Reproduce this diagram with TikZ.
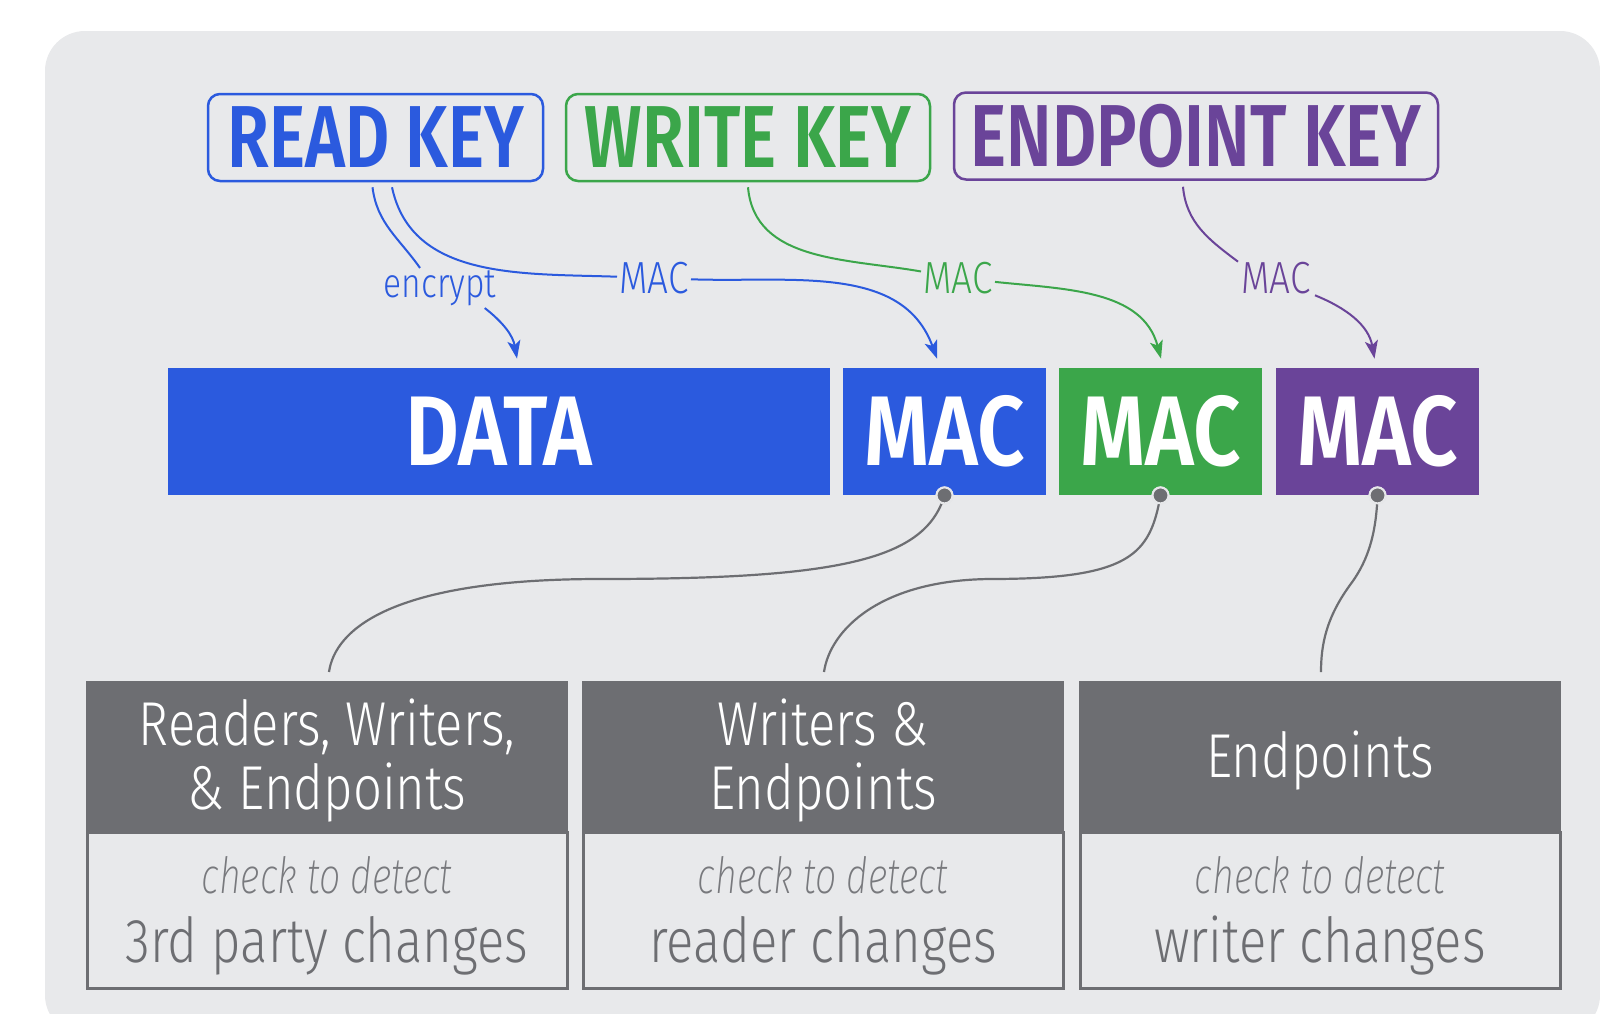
\documentclass[tikz,border=0pt]{standalone}
\usepackage{fontspec}
\setmainfont{Fira Sans}[FakeStretch=0.8]
% weights: fall back to the base family where a cut is absent
\IfFontExistsTF{Fira Sans SemiBold}
  {\newfontfamily\keyfont{Fira Sans SemiBold}[FakeStretch=0.775]
   \newfontfamily\barfont{Fira Sans SemiBold}[FakeStretch=0.84]}
  {\newfontfamily\keyfont{Fira Sans Bold}[FakeStretch=0.755]
   \newfontfamily\barfont{Fira Sans Bold}[FakeStretch=0.82]}
\IfFontExistsTF{Fira Sans Light}
  {\newfontfamily\lightfont{Fira Sans Light}[FakeStretch=0.82]}
  {\newfontfamily\lightfont{Fira Sans}[FakeStretch=0.8]}
\IfFontExistsTF{Fira Sans ExtraLight Italic}
  {\newfontfamily\thinit{Fira Sans ExtraLight Italic}[FakeStretch=0.75]}
  {\IfFontExistsTF{Fira Sans Light Italic}
    {\newfontfamily\thinit{Fira Sans Light Italic}[FakeStretch=0.75]}
    {\newfontfamily\thinit{Fira Sans Italic}[FakeStretch=0.75]}}
\usetikzlibrary{arrows.meta,calc}

\definecolor{keyblue}{RGB}{43,90,222}
\definecolor{keygreen}{RGB}{59,166,74}
\definecolor{keypurple}{RGB}{106,68,153}
\definecolor{slate}{RGB}{109,110,114}
\definecolor{panel}{RGB}{232,233,235}
\definecolor{softgray}{RGB}{120,121,125}
\definecolor{dotrim}{RGB}{230,231,233}

\begin{document}
\begin{tikzpicture}[x=0.5pt,y=-0.5pt,
  keybox/.style={draw, line width=1.25pt, rounded corners=6pt, inner sep=0pt,
    minimum height=43.5pt, font=\keyfont\fontsize{44}{48}\selectfont},
  bar/.style={fill, inner sep=0pt, minimum height=63.5pt, text=white,
    font=\barfont\fontsize{49.5}{52}\selectfont},
  lbl/.style={inner sep=1.2pt, outer sep=0pt, font=\lightfont\fontsize{22.5}{24}\selectfont},
  link/.style={line width=1pt},
  arr/.style={link, -{Stealth[length=9pt,width=6.5pt,inset=2.2pt]}},
  hdr/.style={fill=slate, draw=slate, line width=1pt, inner sep=0pt, text=white,
    minimum width=240pt, minimum height=75pt, align=center, text depth=3pt,
    font=\lightfont\fontsize{31}{32}\selectfont},
  lower/.style={draw=slate, line width=1.5pt, fill=panel, inner sep=0pt,
    minimum width=240pt, minimum height=78pt},
  chk/.style={anchor=base, text=softgray, inner sep=0pt,
    font=\thinit\fontsize{25}{28}\selectfont},
  chg/.style={anchor=base, text=slate, inner sep=0pt,
    font=\lightfont\fontsize{31}{32}\selectfont},
  gline/.style={draw=slate, line width=1.1pt},
  dot/.style={circle, fill=slate, draw=dotrim, line width=1pt,
    minimum size=8pt, inner sep=0pt}]

\useasboundingbox (0,0) rectangle (1600,1013);
\fill[white] (0,0) rectangle (1600,1013);
\fill[panel, rounded corners=20pt] (45,31) rectangle (1600,1035);

% keys
\node[keybox, draw=keyblue, text=keyblue, minimum width=167.5pt] (readkey) at (375.5,137.5) {READ KEY};
\node[keybox, draw=keygreen, text=keygreen, minimum width=182pt] (writekey) at (748,137.5) {WRITE KEY};
\node[keybox, draw=keypurple, text=keypurple, minimum width=242pt] (endkey) at (1196,136) {ENDPOINT KEY};

% message layout
\node[bar, fill=keyblue, minimum width=331pt] (data) at (499,431.5) {DATA};
\node[bar, fill=keyblue, minimum width=101.5pt] (mac1) at (944.5,431.5) {MAC};
\node[bar, fill=keygreen, minimum width=101.5pt] (mac2) at (1160.5,431.5) {MAC};
\node[bar, fill=keypurple, minimum width=101.5pt] (mac3) at (1377.5,431.5) {MAC};

% labels on the key arrows
\node[lbl, text=keyblue, font=\lightfont\fontsize{20.5}{22}\selectfont] (enc) at (440,288) {encrypt};
\node[lbl, text=keyblue] (lmac1) at (654,278) {MAC};
\node[lbl, text=keygreen] (lmac2) at (958,278) {MAC};
\node[lbl, text=keypurple] (lmac3) at (1276,278) {MAC};

% key arrows
\draw[link, keyblue] ($(readkey.south)+(-3,5)$) to[out=-83,in=125] ($(enc.north)+(-20,0)$);
\draw[arr, keyblue] ($(enc.south east)+(-14,0)$) to[out=-38,in=100] ($(data.north)+(18,-9)$);
\draw[link, keyblue] ($(readkey.south)+(16.5,5)$) to[out=-78,in=178] (lmac1);
\draw[arr, keyblue] (lmac1) to[out=-2,in=110] ($(mac1.north)+(-7.5,-9)$);
\draw[link, keygreen] ($(writekey.south)+(0,5)$) to[out=-85,in=170] (lmac2);
\draw[arr, keygreen] (lmac2) to[out=-6,in=105] ($(mac2.north)+(0.5,-9)$);
\draw[link, keypurple] ($(endkey.south)+(-13,6)$) to[out=-85,in=143] ($(lmac3.north west)+(-1,2)$);
\draw[arr, keypurple] ($(lmac3.south east)+(2,-1)$) to[out=-22,in=100] ($(mac3.north)+(-3,-9)$);

% audience panels
\node[lower] (l1) at (327,910) {};
\node[lower] (l2) at (823,910) {};
\node[lower] (l3) at (1320,910) {};
\node[hdr] (h1) at (327,757) {Readers, Writers,\\\& Endpoints};
\node[hdr] (h2) at (823,757) {Writers \&\\Endpoints};
\node[hdr] (h3) at (1320,757) {Endpoints};

\node[chk] (c1) at (327,893) {check to detect};
\node[chk] (c2) at (823,893) {check to detect};
\node[chk] (c3) at (1320,893) {check to detect};
\node[chg] (g1) at (327,962) {3rd party changes};
\node[chg] (g2) at (823,962) {reader changes};
\node[chg] (g3) at (1320,962) {writer changes};

% MAC check links
\node[dot] (d1) at (mac1.south) {};
\node[dot] (d2) at (mac2.south) {};
\node[dot] (d3) at (mac3.south) {};
\draw[gline] (d1.center) .. controls (925,560) and (840,579) .. (600,579)
  .. controls (390,579) and (335,630) .. ($(h1.north)+(2,-9)$);
\draw[gline] (d2.center) .. controls (1150,555) and (1130,579) .. (990,579)
  .. controls (880,580) and (830,630) .. ($(h2.north)+(1,-9)$);
\draw[gline] (d3.center) .. controls (1376,540) and (1365,565) .. (1350,585)
  .. controls (1326,618) and (1321,645) .. ($(h3.north)+(1,-9)$);
\node[dot] at (d1) {};
\node[dot] at (d2) {};
\node[dot] at (d3) {};
\end{tikzpicture}
\end{document}
